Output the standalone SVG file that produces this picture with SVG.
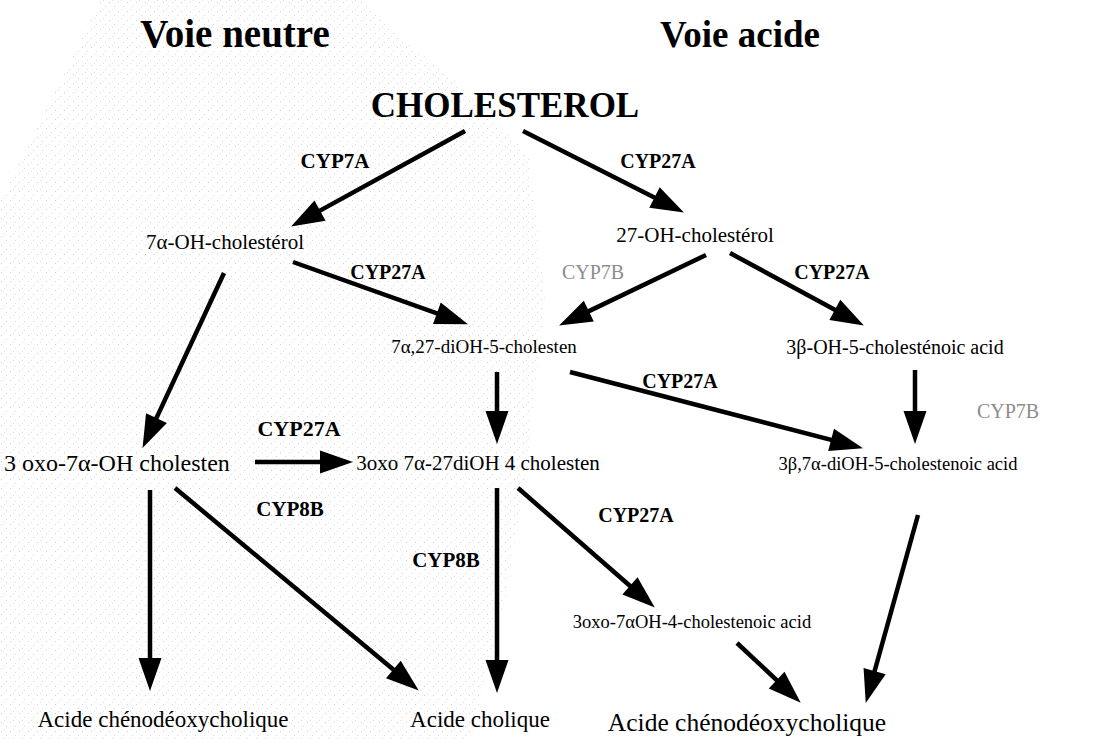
<svg xmlns="http://www.w3.org/2000/svg" width="1096" height="739" viewBox="0 0 1096 739">
<defs>
<pattern id="stip" width="9" height="9" patternUnits="userSpaceOnUse">
<rect x="1" y="2" width="1" height="1" fill="#8a8a8a"/>
<rect x="6" y="6" width="1" height="1" fill="#a0a0a0"/>
<rect x="4" y="0" width="1" height="1" fill="#b0b0b0"/>
</pattern>
<marker id="ah" markerUnits="userSpaceOnUse" markerWidth="33" markerHeight="23" refX="12" refY="11.5" orient="auto" overflow="visible">
<path d="M0,0 L33,11.5 L0,23 Z" fill="#000"/>
</marker>
<style>
.t{font-family:"Liberation Serif","Times New Roman",serif;fill:#000;text-anchor:middle}
.title{font-size:39px;font-weight:bold}
.chol{font-size:35px;font-weight:bold}
.enz{font-size:20px;font-weight:bold}
.gray{font-size:20px;fill:#8c8c8c}
.cmp{font-size:20px}
.fin{font-size:23px}
.arr line{stroke:#000;stroke-width:4.5;marker-end:url(#ah)}
</style>
</defs>
<rect width="1096" height="739" fill="#fff"/>
<path d="M100,0 L360,0 C420,60 480,90 530,160 L545,300 L525,480 L505,600 L470,739 L0,739 L0,200 C40,120 70,60 100,0 Z" fill="url(#stip)" opacity="0.4"/>

<g id="titles">
<text class="t title" x="235" y="47">Voie neutre</text>
<text class="t title" style="font-size:37px" x="740" y="47">Voie acide</text>
</g>

<g id="connectors" class="arr">
<line x1="465" y1="131" x2="309.5" y2="216.4"/>
<line x1="523" y1="131" x2="665.2" y2="203"/>
<line x1="293" y1="262" x2="448.2" y2="317.3"/>
<line x1="224" y1="273" x2="151.4" y2="428.9"/>
<line x1="706" y1="255" x2="578" y2="316.4"/>
<line x1="730" y1="253" x2="845.4" y2="315.5"/>
<line x1="497" y1="372" x2="497" y2="423"/>
<line x1="570" y1="372" x2="842.7" y2="442.9"/>
<line x1="915" y1="370" x2="915" y2="423"/>
<line x1="255" y1="462" x2="332" y2="462"/>
<line x1="150" y1="490" x2="150" y2="670"/>
<line x1="175" y1="488" x2="402.6" y2="677.2"/>
<line x1="497" y1="488" x2="497" y2="672"/>
<line x1="518" y1="488" x2="639" y2="593.8"/>
<line x1="737" y1="643" x2="785.4" y2="688.3"/>
<line x1="918" y1="515" x2="871.4" y2="682.7"/>
</g>

<g id="enzymes">
<text class="t enz" style="font-size:21px" x="335" y="168">CYP7A</text>
<text class="t enz" x="658" y="168">CYP27A</text>
<text class="t enz" x="388" y="279">CYP27A</text>
<text class="t gray" x="593" y="279">CYP7B</text>
<text class="t enz" x="832" y="279">CYP27A</text>
<text class="t enz" x="680" y="388">CYP27A</text>
<text class="t gray" x="1008" y="418">CYP7B</text>
<text class="t enz" style="font-size:22px" x="299" y="436">CYP27A</text>
<text class="t enz" style="font-size:21px" x="290" y="516">CYP8B</text>
<text class="t enz" x="636" y="522">CYP27A</text>
<text class="t enz" style="font-size:21px" x="446" y="567">CYP8B</text>
</g>

<g id="cholesterol"><text class="t chol" x="505" y="117">CHOLESTEROL</text></g>
<g id="oh7"><text class="t cmp" style="font-size:21px" x="225" y="249">7α-OH-cholestérol</text></g>
<g id="oh27"><text class="t cmp" style="font-size:21px" x="695" y="242">27-OH-cholestérol</text></g>
<g id="dioh"><text class="t cmp" style="font-size:19px" x="484" y="353">7α,27-diOH-5-cholesten</text></g>
<g id="b3oh"><text class="t cmp" x="895" y="354">3β-OH-5-cholesténoic acid</text></g>
<g id="oxo3"><text class="t cmp" style="font-size:24px;text-anchor:start" x="4" y="471">3 oxo-7α-OH cholesten</text></g>
<g id="oxo3dioh"><text class="t cmp" style="font-size:21px" x="478" y="470">3oxo 7α-27diOH 4 cholesten</text></g>
<g id="b37dioh"><text class="t cmp" style="font-size:18.5px" x="898" y="470">3β,7α-diOH-5-cholestenoic acid</text></g>
<g id="oxo3acid"><text class="t cmp" style="font-size:18.5px" x="692" y="628">3oxo-7αOH-4-cholestenoic acid</text></g>
<g id="cdca1"><text class="t fin" x="163" y="727">Acide chénodéoxycholique</text></g>
<g id="ca"><text class="t fin" x="480" y="727">Acide cholique</text></g>
<g id="cdca2"><text class="t fin" style="font-size:25.5px" x="747" y="731">Acide chénodéoxycholique</text></g>
</svg>
